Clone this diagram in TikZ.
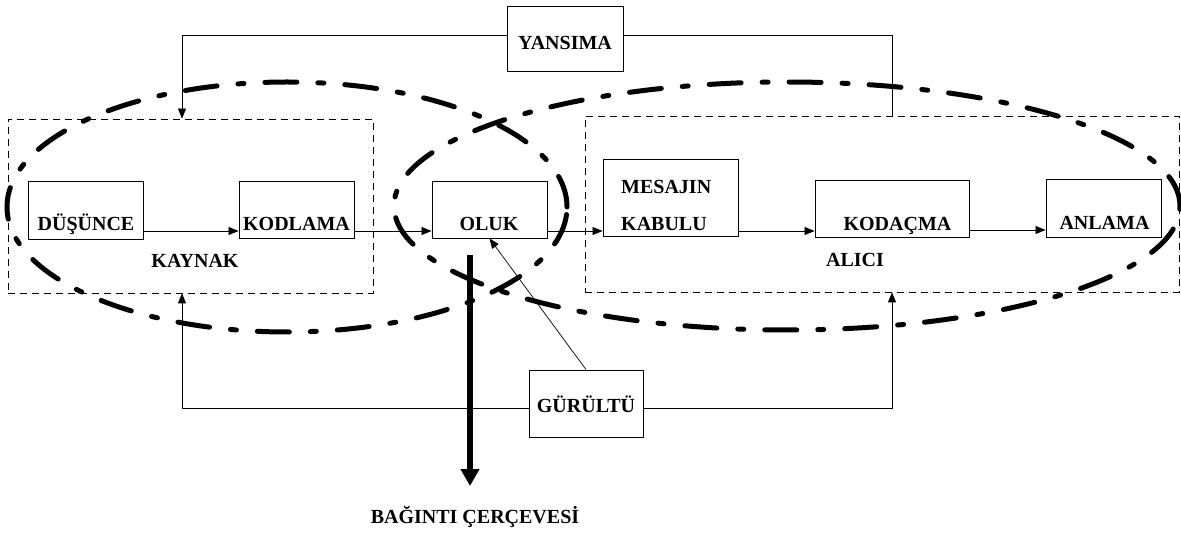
\documentclass[tikz,border=0pt]{standalone}
\usepackage{fontspec}
\setmainfont{Liberation Serif}
\usetikzlibrary{arrows.meta,calc}
\begin{document}
\begin{tikzpicture}[x=1pt,y=-1pt,
  box/.style={draw, line width=0.9pt, inner sep=0pt},
  groupbox/.style={draw, line width=0.7pt, dash pattern=on 7pt off 5pt, inner sep=0pt},
  lbl/.style={font=\bfseries\fontsize{20}{22}\selectfont, inner sep=0pt, anchor=base},
  lblw/.style={lbl, anchor=base west},
  flow/.style={line width=0.7pt, -{Triangle[length=10pt,width=8pt]}},
  link/.style={line width=0.7pt},
  zone/.style={line width=5pt, line cap=round, dash pattern=on 32pt off 21pt on 6pt off 21pt},
  outlet/.style={line width=5.5pt, -{Triangle[length=17pt,width=18pt]}},
]
\useasboundingbox (0,0) rectangle (1181,534);

% the two overlapping zones (source side and receiver side)
\draw[zone] (287,207) ellipse [x radius=280pt, y radius=125pt];
\draw[zone] (787,206) ellipse [x radius=393pt, y radius=124pt];

% group frames
\node[groupbox, minimum width=365pt, minimum height=174pt] (kaynak) at (190.5,206) {};
\node[groupbox, minimum width=594pt, minimum height=176pt] (alici) at (882,204) {};

% boxes
\node[box, minimum width=116pt, minimum height=65pt] (yan) at (565,38.5) {};
\node[box, minimum width=115pt, minimum height=58pt] (dus) at (85.5,210) {};
\node[box, minimum width=115pt, minimum height=57pt] (kod) at (296.5,209.5) {};
\node[box, minimum width=115pt, minimum height=57pt] (oluk) at (489.5,209.5) {};
\node[box, minimum width=135pt, minimum height=77pt] (mes) at (670.5,197.5) {};
\node[box, minimum width=154pt, minimum height=57pt] (kdc) at (892,208.5) {};
\node[box, minimum width=115pt, minimum height=58pt] (anl) at (1103.5,208) {};
\node[box, minimum width=114pt, minimum height=67pt] (gur) at (586,403.5) {};

% texts
\node[lbl] (tyan) at (565,50) {YANSIMA};
\node[lbl] (tdus) at (86,231) {DÜŞÜNCE};
\node[lbl] (tkod) at (296.5,231) {KODLAMA};
\node[lbl] (toluk) at (489,231) {OLUK};
\node[lblw] (tmes1) at (621,194) {MESAJIN};
\node[lblw] (tmes2) at (621,231) {KABULU};
\node[lbl] (tkdc) at (897.5,231) {KODAÇMA};
\node[lbl] (tanl) at (1104.5,230) {ANLAMA};
\node[lbl] (tgur) at (586,413) {GÜRÜLTÜ};
\node[lbl] (tkay) at (195,268) {KAYNAK};
\node[lbl] (tali) at (855,267) {ALICI};
\node[lbl] (tbag) at (475,523) {BAĞINTI ÇERÇEVESİ};

% helper coordinates for routing
\coordinate (fl) at (0,231);
\coordinate (ytop) at (0,35);
\coordinate (gy) at (0,408);
\coordinate (kx) at (182,0);
\coordinate (ax) at (892,0);
\coordinate (bs) at (470,255);
\coordinate (be) at (470,486);

% main chain
\draw[flow] (dus.east |- fl) -- (kod.west |- fl);
\draw[flow] (kod.east |- fl) -- (oluk.west |- fl);
\draw[flow] (oluk.east |- fl) -- (mes.west |- fl);
\draw[flow] (mes.east |- fl) -- (kdc.west |- fl);
\draw[flow] (kdc.east |- 0,230) -- (anl.west |- 0,230);

% feedback (reflection)
\draw[flow] (yan.west |- ytop) -| (kx |- kaynak.north);
\draw[link] (yan.east |- ytop) -| (ax |- alici.north);

% noise
\draw[flow] (gur.west |- gy) -| (kx |- kaynak.south);
\draw[flow] (gur.east |- gy) -| (ax |- alici.south);
\draw[link, -{Triangle[length=10pt,width=8pt]}] (gur.north) -- (oluk.south);

% frame of reference
\draw[outlet] (bs) -- (be);
\end{tikzpicture}
\end{document}
